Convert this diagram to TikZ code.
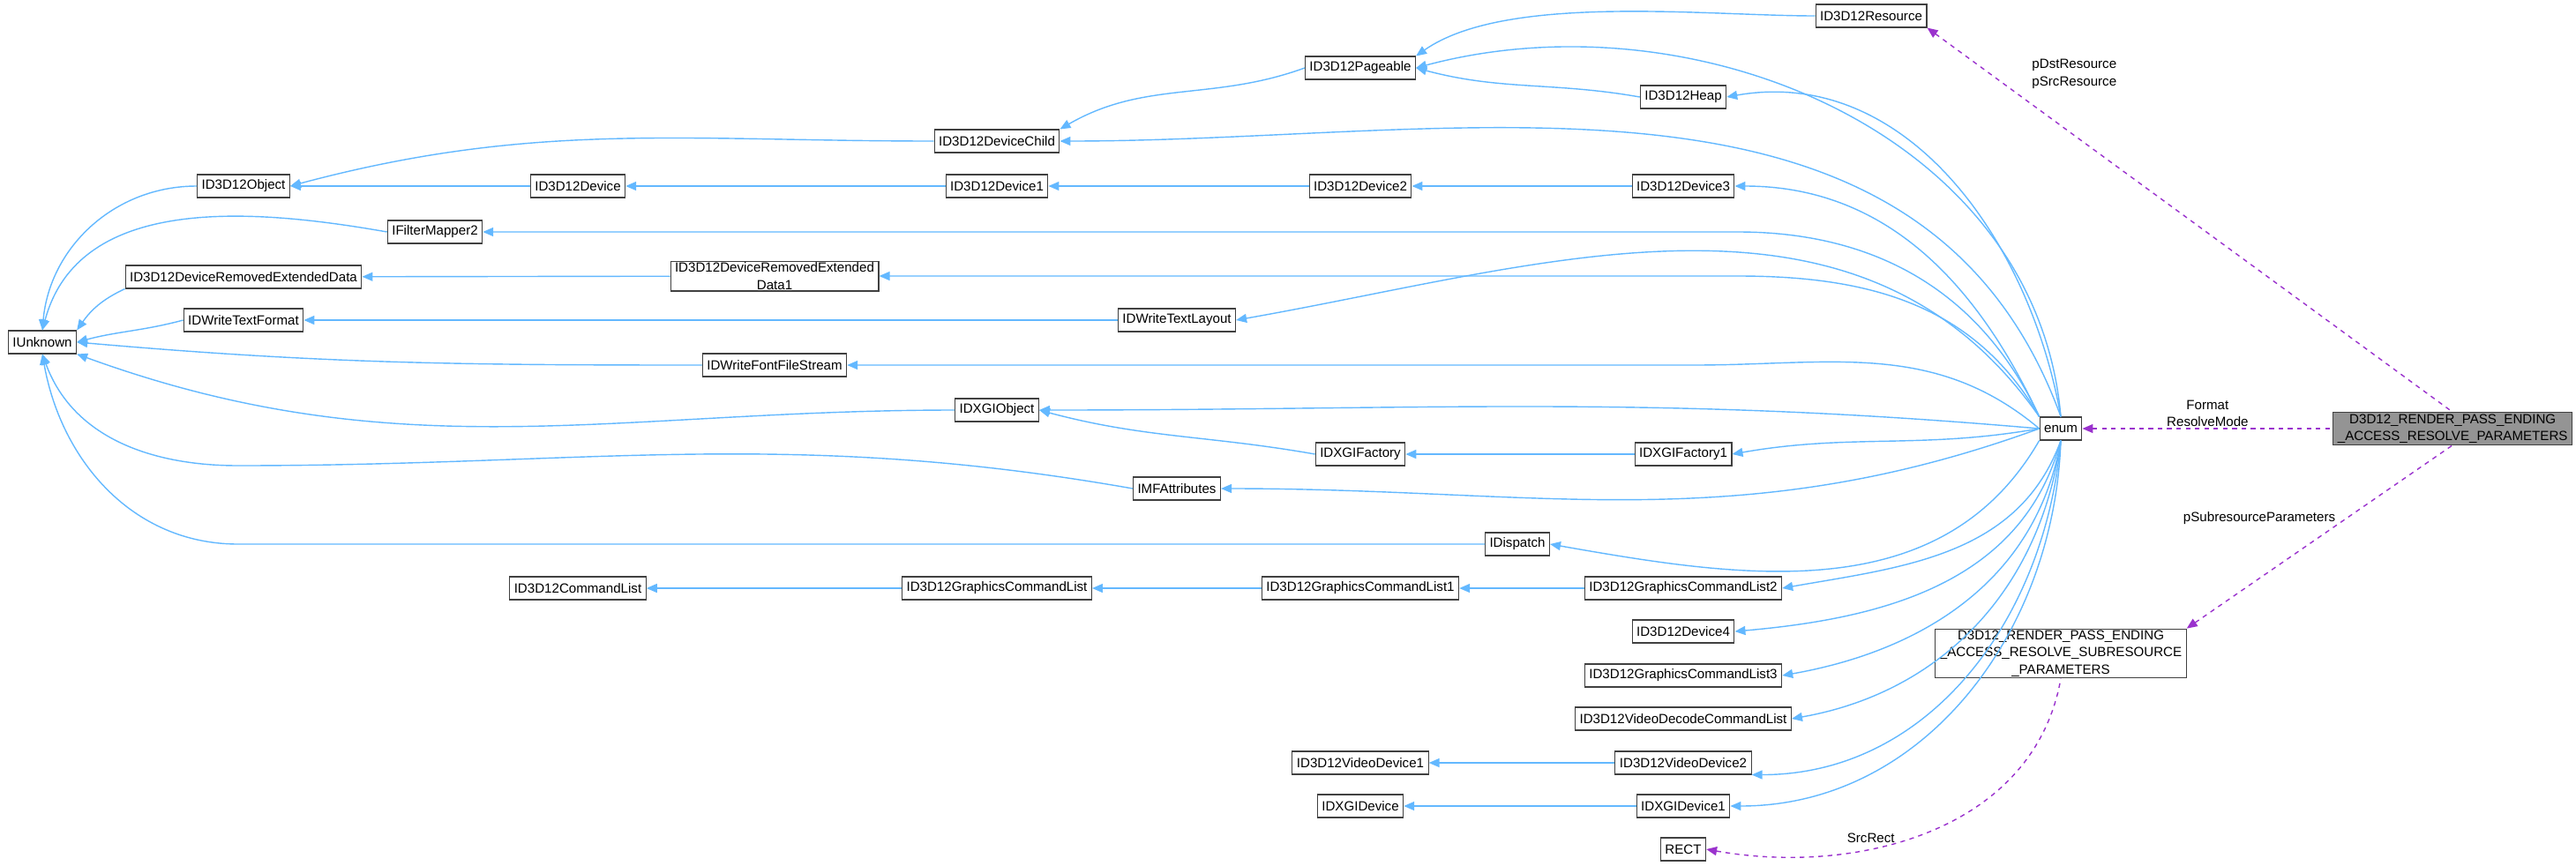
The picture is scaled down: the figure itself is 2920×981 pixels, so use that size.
\documentclass[tikz,border=0pt]{standalone}
\usepackage{fontspec}
\setmainfont{Liberation Sans}
\usetikzlibrary{arrows.meta,positioning}
\definecolor{inhblue}{HTML}{63B8FF}
\definecolor{usepurple}{HTML}{9A32CD}
\tikzset{
    >={Triangle[length=0.24cm,width=0.2cm]},
    every picture/.style={line width=0.5pt},
    cls/.style={draw=black!75,fill=white,line width=0.6pt,minimum height=0.52cm,inner xsep=0.1cm,inner ysep=1pt,font=\fontsize{8.6}{11}\selectfont,align=center},
    inh/.style={draw=inhblue,line width=0.8pt,<-},
    use/.style={draw=usepurple,line width=0.8pt,dashed,<-},
    lbl/.style={font=\fontsize{8.6}{11}\selectfont,align=center,inner sep=1pt}
}
\begin{document}
\begin{tikzpicture}[x=0.02cm,y=-0.02cm]
    \useasboundingbox (0,0) rectangle (2920,981);
    % left part
    \node[cls] (unk) at (48,388) {IUnknown};
    \node[cls] (obj) at (276,211) {ID3D12Object};
    \node[cls] (fm2) at (493,263) {IFilterMapper2};
    \node[cls] (dred) at (276,314) {ID3D12DeviceRemovedExtendedData};
    \node[cls] (dwtf) at (276,363) {IDWriteTextFormat};
    \node[cls] (child) at (1130,160) {ID3D12DeviceChild};
    \node[cls] (dev) at (655,211) {ID3D12Device};
    \node[cls] (dev1) at (1130,211) {ID3D12Device1};
    \node[cls] (dred1) at (878,313) {ID3D12DeviceRemovedExtended\\Data1};
    \node[cls] (dwtl) at (1334,363) {IDWriteTextLayout};
    \node[cls] (dwfs) at (878,414) {IDWriteFontFileStream};
    \node[cls] (dxo) at (1130,465) {IDXGIObject};
    \node[cls] (mfa) at (1334,554) {IMFAttributes};
    \node[cls] (cl) at (655,667) {ID3D12CommandList};
    \node[cls] (gcl) at (1130,667) {ID3D12GraphicsCommandList};
    % middle part
    \node[cls] (res) at (2121,18) {ID3D12Resource};
    \node[cls] (page) at (1542,77) {ID3D12Pageable};
    \node[cls] (heap) at (1908,110) {ID3D12Heap};
    \node[cls] (dev2) at (1542,211) {ID3D12Device2};
    \node[cls] (dev3) at (1908,211) {ID3D12Device3};
    \node[cls] (dxf) at (1542,515) {IDXGIFactory};
    \node[cls] (dxf1) at (1908,515) {IDXGIFactory1};
    \node[cls] (disp) at (1720,617) {IDispatch};
    \node[cls] (gcl1) at (1542,667) {ID3D12GraphicsCommandList1};
    \node[cls] (gcl2) at (1908,667) {ID3D12GraphicsCommandList2};
    \node[cls] (dev4) at (1908,716) {ID3D12Device4};
    \node[cls] (gcl3) at (1908,766) {ID3D12GraphicsCommandList3};
    \node[cls] (vdcl) at (1908,815) {ID3D12VideoDecodeCommandList};
    \node[cls] (vd1) at (1542,865) {ID3D12VideoDevice1};
    \node[cls] (vd2) at (1908,865) {ID3D12VideoDevice2};
    \node[cls] (dxd) at (1542,914) {IDXGIDevice};
    \node[cls] (dxd1) at (1908,914) {IDXGIDevice1};
    \node[cls] (rect) at (1908,963) {RECT};
    % right part
    \node[cls] (enum) at (2336,486) {enum};
    \node[cls] (sub) at (2336,741) {D3D12\_RENDER\_PASS\_ENDING\\\_ACCESS\_RESOLVE\_SUBRESOURCE\\\_PARAMETERS};
    \node[cls,fill=black!42,anchor=east] (main) at (2916,486) {D3D12\_RENDER\_PASS\_ENDING\\\_ACCESS\_RESOLVE\_PARAMETERS};
    \coordinate (mfaturn) at (270,528);
    \coordinate (dispturn) at (270,617);

    % IUnknown
    \draw[inh] (unk.north) to[out=85,in=180] (obj.west);
    \draw[inh] (unk.north) to[out=75,in=170] (fm2.west);
    \draw[inh] (unk.north east) to[out=55,in=205] (dred.south west);
    \draw[inh] (unk.east) to[out=15,in=195] (dwtf.west);
    \draw[inh] (unk.east) to[out=-5,in=180] (dwfs.west);
    \draw[inh] (unk.south east) to[out=-20,in=180] (dxo.west);
    \draw[inh] (unk.south) to[out=-70,in=180] (mfaturn) to[out=0,in=170] (mfa.west);
    \draw[inh] (unk.south) to[out=-80,in=180] (dispturn) -- (disp.west);
    % chains
    \draw[inh] (obj.east) to[out=15,in=180] (child.west);
    \draw[inh] (obj) -- (dev);
    \draw[inh] (child.north east) to[out=30,in=200] (page.west);
    \draw[inh] (page.north east) to[out=35,in=180,looseness=0.7] (res.west);
    \draw[inh] (page.east) to[out=-15,in=170] (heap.west);
    \draw[inh] (dev) -- (dev1);
    \draw[inh] (dev1) -- (dev2);
    \draw[inh] (dev2) -- (dev3);
    \draw[inh] (dred) -- (dred1);
    \draw[inh] (dwtf) -- (dwtl);
    \draw[inh] (dxo.east) to[out=-15,in=170] (dxf.west);
    \draw[inh] (dxf) -- (dxf1);
    \draw[inh] (cl) -- (gcl);
    \draw[inh] (gcl) -- (gcl1);
    \draw[inh] (gcl1) -- (gcl2);
    \draw[inh] (vd1) -- (vd2);
    \draw[inh] (dxd) -- (dxd1);
    % into enum
    \draw[inh] (page.east) to[out=15,in=95] (enum.north);
    \draw[inh] (heap.east) to[out=10,in=100] (enum.north);
    \draw[inh] (child.east) to[out=0,in=110] (enum.north);
    \draw[inh] (dev3.east) to[out=0,in=115] (enum.north west);
    \draw[inh] (fm2.east) -- (1970,263) to[out=0,in=115] (enum.north west);
    \draw[inh] (dred1.east) -- (1970,313) to[out=0,in=120] (enum.north west);
    \draw[inh] (dwtl.east) to[out=10,in=125] (enum.north west);
    \draw[inh] (dwfs.east) -- (1920,414) to[out=0,in=140] (enum.west);
    \draw[inh] (dxo.east) to[out=0,in=175] (enum.west);
    \draw[inh] (dxf1.east) to[out=10,in=190] (enum.west);
    \draw[inh] (mfa.east) to[out=0,in=200] (enum.west);
    \draw[inh] (disp.east) to[out=-10,in=240] (enum.south west);
    \draw[inh] (gcl2.east) to[out=10,in=250] (enum.south);
    \draw[inh] (dev4.east) to[out=5,in=255] (enum.south);
    \draw[inh] (gcl3.east) to[out=10,in=260] (enum.south);
    \draw[inh] (vdcl.east) to[out=10,in=262] (enum.south);
    \draw[inh] (vd2.south east) to[out=0,in=265] (enum.south);
    \draw[inh] (dxd1.east) to[out=0,in=268] (enum.south);
    % members
    \draw[use] (enum) -- node[lbl,above]{Format\\ResolveMode} (main);
    \draw[use] (res.south east) -- node[lbl,pos=0.12,right=0.9cm]{pDstResource\\pSrcResource} (main.north);
    \draw[use] (sub.north east) -- node[lbl,pos=0.6,left=0.2cm]{pSubresourceParameters} (main.south);
    \draw[use] (rect.east) to[out=-10,in=260] node[lbl,pos=0.45,left=0.3cm]{SrcRect} (sub.south);
\end{tikzpicture}
\end{document}
